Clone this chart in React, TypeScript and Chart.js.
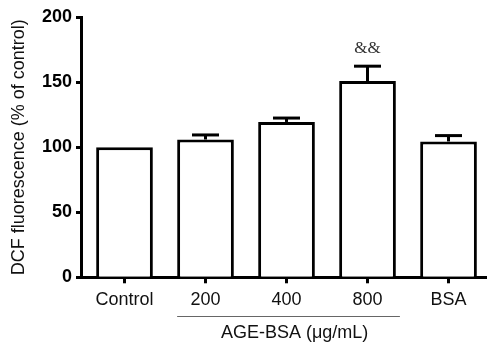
import React, { useEffect, useRef } from "react";
import { Chart, registerables } from "chart.js";

Chart.register(...registerables);

const categories = ["Control", "200", "400", "800", "BSA"];
const meanValues = [100, 106, 119.5, 151, 104.5];
const semValues = [0, 3.5, 3, 11.4, 4.5];
const significance = ["", "", "", "&&", ""];
const yTicks = [0, 50, 100, 150, 200];
const groupLabel = "AGE-BSA (μg/mL)";
const groupStart = 1;
const groupEnd = 3;
const yTitle = "DCF fluorescence (% of control)";

const SANS = "Arial, 'Liberation Sans', Helvetica, sans-serif";
const SERIF = "'Times New Roman', 'Liberation Serif', serif";

const extrasPlugin = {
  id: "extras",
  afterDatasetsDraw(chart: any) {
    const { ctx } = chart;
    const xs = chart.scales.x;
    const ys = chart.scales.y;
    ctx.save();
    ctx.strokeStyle = "#000";
    ctx.lineWidth = 3;
    ctx.lineCap = "butt";
    meanValues.forEach((v, i) => {
      const err = semValues[i];
      const x = xs.getPixelForValue(i);
      const y0 = ys.getPixelForValue(v);
      const y1 = ys.getPixelForValue(v + err);
      if (err > 0) {
        ctx.beginPath();
        ctx.moveTo(x, y0);
        ctx.lineTo(x, y1);
        ctx.stroke();
        ctx.beginPath();
        ctx.moveTo(x - 13.5, y1);
        ctx.lineTo(x + 13.5, y1);
        ctx.stroke();
      }
      if (significance[i]) {
        ctx.fillStyle = "#333";
        ctx.font = `17px ${SERIF}`;
        ctx.textAlign = "center";
        ctx.textBaseline = "middle";
        ctx.fillText(significance[i], x, y1 - 18);
      }
    });
    // group bracket
    const bx0 = xs.getPixelForValue(groupStart - 0.35);
    const bx1 = xs.getPixelForValue(groupEnd + 0.4);
    const by = 316.5;
    ctx.strokeStyle = "#666";
    ctx.lineWidth = 1;
    ctx.beginPath();
    ctx.moveTo(bx0, by);
    ctx.lineTo(bx1, by);
    ctx.stroke();
    ctx.fillStyle = "#111";
    ctx.font = `18px ${SANS}`;
    ctx.textAlign = "center";
    ctx.textBaseline = "middle";
    ctx.fillText(groupLabel, xs.getPixelForValue((groupStart + groupEnd) / 2 + 0.1), 333);
    ctx.restore();
  },
};

export default function App() {
  const ref = useRef<HTMLCanvasElement | null>(null);
  useEffect(() => {
    if (!ref.current) return;
    const chart = new Chart(ref.current, {
      type: "bar",
      data: {
        labels: categories,
        datasets: [
          {
            data: meanValues.map((v, i) => ({ x: i, y: v })),
            backgroundColor: "#fff",
            borderColor: "#000",
            borderWidth: 3,
            borderSkipped: "start",
            barPercentage: 0.7,
            categoryPercentage: 1,
          },
        ],
      },
      options: {
        responsive: false,
        animation: false,
        layout: { padding: { top: 17.3, left: 0, right: 0, bottom: 0 } },
        plugins: {
          legend: { display: false },
          tooltip: { enabled: false },
        },
        scales: {
          x: {
            type: "linear",
            offset: false,
            min: -0.537,
            max: 4.475,
            afterBuildTicks: (scale: any) => {
              scale.ticks = categories.map((_, i) => ({ value: i }));
            },
            afterFit: (scale: any) => {
              scale.height = 345 - 277.3;
            },
            ticks: {
              callback: (v: any) => categories[Math.round(Number(v))] ?? "",
              color: "#111",
              font: { family: SANS, size: 18 },
              padding: 6,
              maxRotation: 0,
              autoSkip: false,
            },
            grid: {
              offset: false,
              drawOnChartArea: false,
              drawTicks: true,
              tickLength: 6,
              tickWidth: 3,
              tickColor: "#000",
            },
            border: { display: true, color: "#000", width: 3 },
          },
          y: {
            min: 0,
            max: 200,
            afterBuildTicks: (scale: any) => {
              scale.ticks = yTicks.map((v) => ({ value: v }));
            },
            afterFit: (scale: any) => {
              scale.width = 81;
            },
            ticks: {
              color: "#000",
              font: { family: SANS, size: 18, weight: "bold" },
              padding: 4,
            },
            grid: {
              drawOnChartArea: false,
              drawTicks: true,
              tickLength: 5,
              tickWidth: 3,
              tickColor: "#000",
            },
            border: { display: true, color: "#000", width: 3 },
            title: {
              display: true,
              text: yTitle,
              color: "#111",
              font: { family: SANS, size: 18 },
              padding: { top: 8, bottom: 0 },
            },
          },
        },
      },
      plugins: [extrasPlugin],
    } as any);
    return () => chart.destroy();
  }, []);
  return (
    <div style={{ position: "fixed", left: 0, top: 0, width: 487, height: 345, background: "#fff" }}>
      <canvas ref={ref} width={487} height={345} style={{ display: "block" }} />
    </div>
  );
}
